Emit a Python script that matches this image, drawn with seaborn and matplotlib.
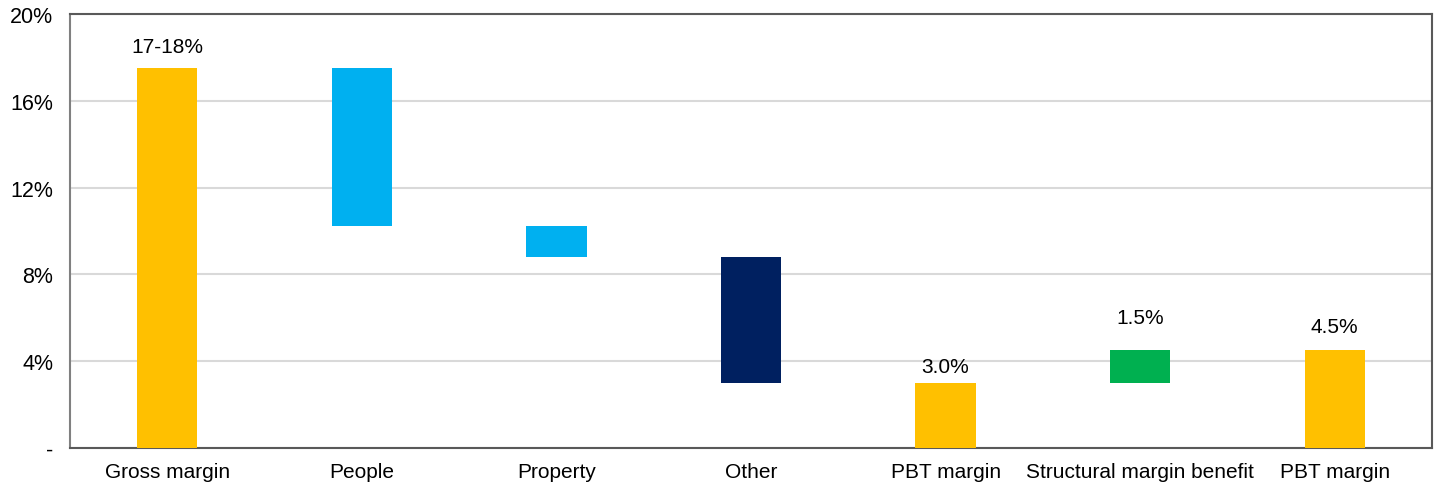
import matplotlib
matplotlib.use("Agg")
import matplotlib.pyplot as plt
import seaborn as sns
import pandas as pd
from matplotlib.ticker import FixedLocator, FuncFormatter

# Margin bridge: gross margin down to PBT margin, then structural uplift
steps = ["Gross margin", "People", "Property", "Other", "PBT margin",
         "Structural margin benefit", "PBT margin"]
bases = [0.0, 10.25, 8.8, 3.0, 0.0, 3.0, 0.0]
heights = [17.5, 7.25, 1.45, 5.8, 3.0, 1.5, 4.5]
colors = ["#FFC000", "#00B0F0", "#00B0F0", "#002060", "#FFC000", "#00B050", "#FFC000"]
value_labels = ["17-18%", None, None, None, "3.0%", "1.5%", "4.5%"]
label_offsets_px = [22, None, None, None, 16, 33, 24]

keys = [f"s{i}" for i in range(len(steps))]
df = pd.DataFrame({"key": keys, "step": steps, "base": bases, "height": heights})

sns.set_theme(style="white")
plt.rcParams["font.family"] = ["Liberation Sans", "DejaVu Sans"]

fig = plt.figure(figsize=(14.37, 4.85), dpi=100)
ax = fig.add_axes([70 / 1437, 36 / 485, 1362 / 1437, 434 / 485])

for i, row in df.iterrows():
    sns.barplot(x=[row["key"]], y=[row["height"]], bottom=row["base"], order=keys,
                color=colors[i], saturation=1, width=0.31, ax=ax, zorder=3,
                linewidth=0)

ax.set_xlim(-0.5, len(steps) - 0.5)
ax.set_ylim(0, 20)

# value labels above the bars
for i, txt in enumerate(value_labels):
    if txt is None:
        continue
    top = bases[i] + heights[i]
    ax.annotate(txt, xy=(i, top), xytext=(0, label_offsets_px[i] * 0.72),
                textcoords="offset points", ha="center", va="center",
                fontsize=15, color="#000000")

# y axis: percent ticks with a dash at zero
ax.yaxis.set_major_locator(FixedLocator([0, 4, 8, 12, 16, 20]))
ax.yaxis.set_major_formatter(FuncFormatter(lambda v, p: "-" if v == 0 else f"{v:.0f}%"))
ax.tick_params(axis="y", length=0, labelsize=15.5, pad=12, colors="#000000")
ax.grid(axis="y", color="#D9D9D9", linewidth=1.5, zorder=0)
ax.set_axisbelow(True)

# x axis: tick marks between categories, labels centred on bars
ax.xaxis.set_major_locator(FixedLocator([i - 0.5 for i in range(len(steps) + 1)]))
ax.xaxis.set_major_formatter(FuncFormatter(lambda v, p: ""))
ax.xaxis.set_minor_locator(FixedLocator(list(range(len(steps)))))
ax.xaxis.set_minor_formatter(FuncFormatter(lambda v, p: steps[int(round(v))]))
ax.tick_params(axis="x", which="major", length=4.5, width=1.5, color="#595959", direction="out")
ax.tick_params(axis="x", which="minor", length=0, labelsize=15, pad=10, colors="#000000")
ax.set_xlabel("")
ax.set_ylabel("")

for side in ["left", "right", "top", "bottom"]:
    ax.spines[side].set_visible(True)
    ax.spines[side].set_color("#595959")
    ax.spines[side].set_linewidth(1.5)
ax.spines["left"].set_color("#808080")

fig.savefig("out.png", dpi=100, facecolor="white")
